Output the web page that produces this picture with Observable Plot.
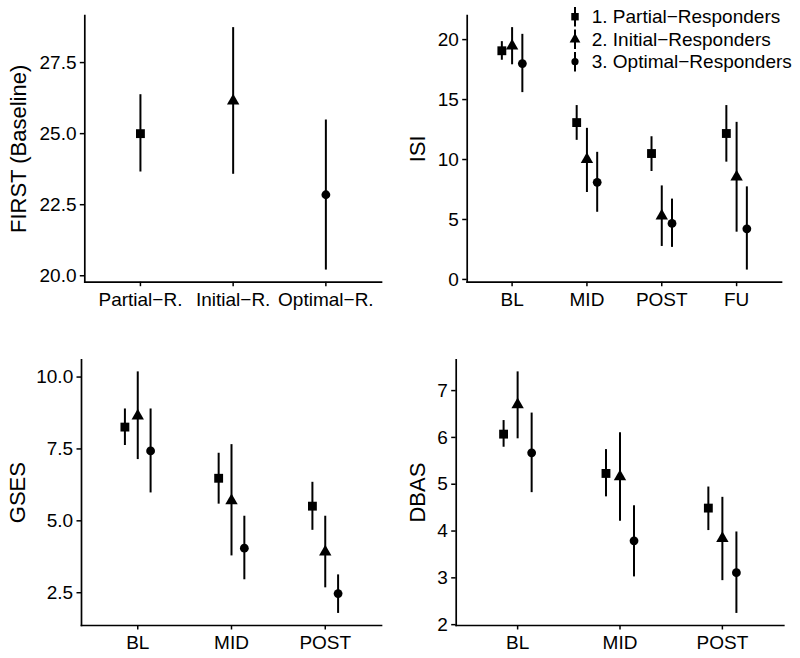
<!DOCTYPE html>
<html><head><meta charset="utf-8">
<script src="https://cdn.jsdelivr.net/npm/d3@7"></script>
<script src="https://cdn.jsdelivr.net/npm/@observablehq/plot@0.6"></script>
<style>
body{margin:0;background:#fff;}
#chart{position:relative;width:800px;height:658px;font-family:"Liberation Sans",Arial,Helvetica,sans-serif;color:#000;}
#chart > svg{position:absolute;overflow:visible;}
</style></head><body><div id="chart"></div>
<script>
// ---------- data ----------
const groups = ["1. Partial\u2212Responders", "2. Initial\u2212Responders", "3. Optimal\u2212Responders"];
const groupSymbols = ["square", "triangle", "circle"];
const groupRadius = [5, 4.6, 4.4];

// FIRST (Baseline)
const firstCategories = ["Partial\u2212R.", "Initial\u2212R.", "Optimal\u2212R."];
const firstMean = [25.0, 26.15, 22.85];
const firstLow  = [23.65, 23.57, 20.2];
const firstHigh = [26.37, 28.73, 25.48];

// ISI
const isiTimes = ["BL", "MID", "POST", "FU"];
const isiPartialMean = [19.07, 13.08, 10.5, 12.17];
const isiPartialLow  = [18.28, 11.6, 9.0, 9.78];
const isiPartialHigh = [19.83, 14.5, 11.9, 14.5];
const isiInitialMean = [19.47, 10.0, 5.3, 8.55];
const isiInitialLow  = [17.9, 7.25, 2.75, 3.94];
const isiInitialHigh = [21.0, 12.6, 7.8, 13.1];
const isiOptimalMean = [18.0, 8.1, 4.67, 4.22];
const isiOptimalLow  = [15.58, 5.6, 2.67, 0.78];
const isiOptimalHigh = [20.44, 10.6, 6.7, 7.72];

// GSES
const gsesTimes = ["BL", "MID", "POST"];
const gsesPartialMean = [8.26, 6.48, 5.51];
const gsesPartialLow  = [7.62, 5.58, 4.67];
const gsesPartialHigh = [8.89, 7.35, 6.34];
const gsesInitialMean = [8.65, 5.7, 3.92];
const gsesInitialLow  = [7.13, 3.78, 2.67];
const gsesInitialHigh = [10.18, 7.65, 5.16];
const gsesOptimalMean = [7.43, 4.05, 2.47];
const gsesOptimalLow  = [5.97, 2.95, 1.78];
const gsesOptimalHigh = [8.89, 5.16, 3.12];

// DBAS
const dbasTimes = ["BL", "MID", "POST"];
const dbasPartialMean = [6.07, 5.23, 4.49];
const dbasPartialLow  = [5.79, 4.73, 4.01];
const dbasPartialHigh = [6.36, 5.74, 4.94];
const dbasInitialMean = [6.7, 5.16, 3.84];
const dbasInitialLow  = [5.97, 4.21, 2.94];
const dbasInitialHigh = [7.4, 6.1, 4.72];
const dbasOptimalMean = [5.67, 3.79, 3.11];
const dbasOptimalLow  = [4.82, 3.02, 2.24];
const dbasOptimalHigh = [6.52, 4.54, 3.98];

const yTicksFirst = [20, 22.5, 25, 27.5];
const yTicksIsi = [0, 5, 10, 15, 20];
const yTicksGses = [2.5, 5, 7.5, 10];
const yTicksDbas = [2, 3, 4, 5, 6, 7];

// ---------- helpers ----------
const DODGE = 0.137;
function seriesRows(list) {
  // list: [{mean, low, high}] per group
  const rows = [];
  const n = list.length;
  list.forEach((s, gi) => {
    s.mean.forEach((m, i) => {
      rows.push({i: i + 1, x: i + 1 + (gi - (n - 1) / 2) * DODGE, mean: m, low: s.low[i], high: s.high[i], g: gi});
    });
  });
  return rows;
}
function firstRows() {
  return firstMean.map((m, i) => ({i: i + 1, x: i + 1, mean: m, low: firstLow[i], high: firstHigh[i], g: i}));
}

function panel(cfg) {
  const {rows, cats, yTicks, yFormat, title, left, top, width, height, m, titleX} = cfg;
  const lo = d3.min(rows, d => d.low), hi = d3.max(rows, d => d.high);
  const pad = (hi - lo) * 0.05;
  const marks = [
    Plot.frame({anchor: "left", strokeWidth: 1.7}),
    Plot.frame({anchor: "bottom", strokeWidth: 1.7}),
    Plot.axisY(yTicks, {tickFormat: yFormat, tickSize: 4.5, tickPadding: 3.8, strokeWidth: 1.5, fontSize: 19, label: null}),
    Plot.axisX(d3.range(1, cats.length + 1), {tickFormat: i => cats[i - 1], tickSize: 4.5, tickPadding: 5.8, strokeWidth: 1.5, fontSize: 19, label: null}),
    Plot.ruleX(rows, {x: "x", y1: "low", y2: "high", stroke: "black", strokeWidth: 2}),
    ...groupSymbols.map((sym, gi) => Plot.dot(rows.filter(d => d.g === gi), {x: "x", y: "mean", symbol: () => sym, r: groupRadius[gi], fill: "black", stroke: "none"})),
    Plot.text([title], {text: d => d, frameAnchor: "left", rotate: -90, dx: titleX - m[3], fontSize: 22, textAnchor: "middle", lineAnchor: "middle", fill: "black"})
  ];
  const svg = Plot.plot({
    width, height,
    marginTop: m[0], marginRight: m[1], marginBottom: m[2], marginLeft: m[3],
    style: {fontFamily: '"Liberation Sans", Arial, Helvetica, sans-serif', color: "black", background: "transparent"},
    x: {type: "linear", domain: [0.4, cats.length + 0.6], axis: null},
    y: {domain: [lo - pad, hi + pad], axis: null},
    symbol: {type: "identity"},
    marks
  });
  svg.style.left = left + "px";
  svg.style.top = top + "px";
  return svg;
}

const chart = document.getElementById("chart");

chart.appendChild(panel({
  rows: firstRows(), cats: firstCategories, yTicks: yTicksFirst, yFormat: d3.format(".1f"),
  title: "FIRST (Baseline)", left: 0, top: 0, width: 400, height: 329, m: [15, 19, 47.3, 84.3], titleX: 18
}));
chart.appendChild(panel({
  rows: seriesRows([
    {mean: isiPartialMean, low: isiPartialLow, high: isiPartialHigh},
    {mean: isiInitialMean, low: isiInitialLow, high: isiInitialHigh},
    {mean: isiOptimalMean, low: isiOptimalLow, high: isiOptimalHigh}
  ]), cats: isiTimes, yTicks: yTicksIsi, yFormat: d3.format("d"),
  title: "ISI", left: 400, top: 0, width: 400, height: 329, m: [15, 19, 47.3, 66.7], titleX: 17
}));
chart.appendChild(panel({
  rows: seriesRows([
    {mean: gsesPartialMean, low: gsesPartialLow, high: gsesPartialHigh},
    {mean: gsesInitialMean, low: gsesInitialLow, high: gsesInitialHigh},
    {mean: gsesOptimalMean, low: gsesOptimalLow, high: gsesOptimalHigh}
  ]), cats: gsesTimes, yTicks: yTicksGses, yFormat: d3.format(".1f"),
  title: "GSES", left: 0, top: 329, width: 400, height: 329, m: [30.3, 19, 33, 81], titleX: 17
}));
chart.appendChild(panel({
  rows: seriesRows([
    {mean: dbasPartialMean, low: dbasPartialLow, high: dbasPartialHigh},
    {mean: dbasInitialMean, low: dbasInitialLow, high: dbasInitialHigh},
    {mean: dbasOptimalMean, low: dbasOptimalLow, high: dbasOptimalHigh}
  ]), cats: dbasTimes, yTicks: yTicksDbas, yFormat: d3.format("d"),
  title: "DBAS", left: 400, top: 329, width: 400, height: 329, m: [30.3, 16.7, 33, 55.7], titleX: 17
}));

// ---------- legend (inside ISI panel, top right) ----------
const legend = d3.create("svg")
  .attr("width", 240).attr("height", 80)
  .style("left", "560px").style("top", "0px")
  .style("font-family", '"Liberation Sans", Arial, Helvetica, sans-serif');
const rowY = [16.7, 39.3, 61.7];
const legendR = [4.2, 4.0, 3.6];
groups.forEach((g, gi) => {
  const item = legend.append("g").attr("transform", `translate(15,${rowY[gi]})`);
  item.append("line").attr("y1", -9.7).attr("y2", 9.7).attr("stroke", "black").attr("stroke-width", 2);
  item.append("path").attr("d", d3.symbol(d3["symbol" + groupSymbols[gi][0].toUpperCase() + groupSymbols[gi].slice(1)], Math.PI * legendR[gi] ** 2)()).attr("fill", "black");
  item.append("text").attr("x", 16.7).attr("dy", "0.35em").attr("font-size", 19).attr("fill", "black").text(g);
});
chart.appendChild(legend.node());
</script>
</body></html>
